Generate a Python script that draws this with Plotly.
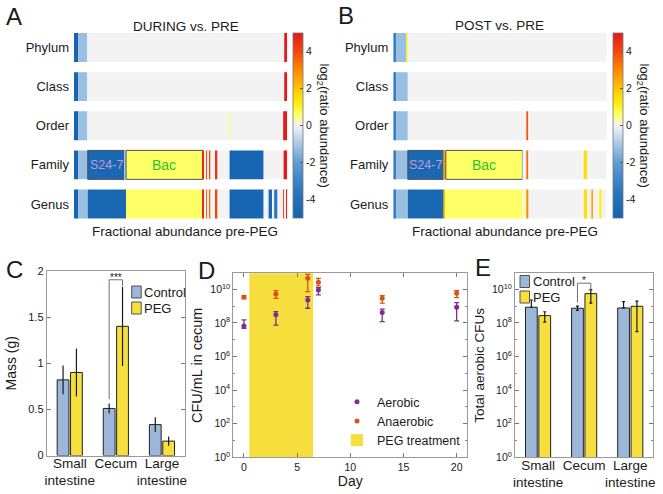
import numpy as np
import plotly.graph_objects as go

W, H = 663, 494
FONT = "Arial, Liberation Sans, sans-serif"
INK = "#1a1a1a"
CTRL = "#9db7da"
PEG = "#f7e03e"


def px(x):
    return x / W


def py(y):
    return 1 - y / H


ranks = ["Phylum", "Class", "Order", "Family", "Genus"]

# ---- A: DURING vs. PRE (segment width = fractional abundance pre-PEG, value = log2 ratio)
during_phylum_w = [0.020, 0.042, 0.919, 0.014, 0.005]
during_phylum_v = [-4.8, -1.2, 0.0, 5.0, 0.0]
during_class_w = [0.020, 0.042, 0.919, 0.014, 0.005]
during_class_v = [-4.8, -1.2, 0.0, 5.0, 0.0]
during_order_w = [0.020, 0.042, 0.659, 0.006, 0.249, 0.019, 0.005]
during_order_v = [-4.8, -1.2, 0.0, 0.4, 0.0, 5.0, 0.0]
during_family_w = [0.020, 0.044, 0.171, 0.008, 0.358, 0.008, 0.008, 0.005, 0.009,
                   0.005, 0.026, 0.008, 0.056, 0.159, 0.093, 0.019, 0.005]
during_family_v = [-4.8, -1.2, -4.6, -1.0, 0.6, 4.6, 0.0, 4.0, 0.0,
                   4.0, 0.0, 4.5, 0.0, -4.8, 0.0, 5.0, 0.0]
during_family_txt = ["", "", "S24-7", "", "Bac"] + [""] * 12
during_genus_w = [0.020, 0.044, 0.179, 0.358, 0.008, 0.008, 0.005, 0.009, 0.005, 0.026, 0.008,
                  0.056, 0.159, 0.023, 0.020, 0.006, 0.016, 0.028, 0.006, 0.006, 0.006, 0.005]
during_genus_v = [-4.8, -1.2, -4.6, 0.6, 4.6, 0.0, 3.5, 0.0, 3.5, 0.0, 4.0,
                  0.0, -4.8, 0.0, -4.6, 0.0, -3.6, 0.0, 4.0, 0.0, 5.0, 0.0]

# ---- B: POST vs. PRE
post_phylum_w = [0.009, 0.006, 0.047, 0.006, 0.932]
post_phylum_v = [-4.8, -3.0, -1.2, 1.0, 0.0]
post_class_w = [0.009, 0.006, 0.053, 0.932]
post_class_v = [-4.8, -3.0, -1.2, 0.0]
post_order_w = [0.009, 0.006, 0.053, 0.556, 0.009, 0.367]
post_order_v = [-4.8, -3.0, -1.2, 0.0, 3.8, 0.0]
post_family_w = [0.009, 0.006, 0.053, 0.169, 0.009, 0.359, 0.019, 0.009, 0.259, 0.016, 0.091]
post_family_v = [-4.8, -3.0, -1.2, -4.6, 2.5, 0.6, 0.0, 3.5, 0.0, 1.5, 0.0]
post_family_txt = ["", "", "", "S24-7", "", "Bac"] + [""] * 5
post_genus_w = [0.009, 0.006, 0.053, 0.169, 0.006, 0.363, 0.019, 0.009, 0.259, 0.016,
                0.022, 0.006, 0.031, 0.009, 0.022]
post_genus_v = [-4.8, -3.0, -1.2, -4.6, 2.2, 0.6, 0.2, 3.0, 0.0, 1.5,
                0.0, 2.5, 0.0, 1.2, 0.0]

# ---- C: organ mass
gut_sections = ["Small<br>intestine", "Cecum", "Large<br>intestine"]
mass_control = [0.82, 0.51, 0.335]
mass_control_err = [0.155, 0.055, 0.08]
mass_peg = [0.90, 1.40, 0.156]
mass_peg_err = [0.26, 0.43, 0.05]

# ---- D: CFU/mL in cecum over time
days = [0, 3, 6, 7, 13, 20]
aerobic = [6.6e7, 3.0e8, 2.3e9, 9.1e9, 4.1e8, 8.5e8]
aerobic_hi = [1.5e8, 4.7e8, 3.6e9, 1.26e10, 6.5e8, 1.6e9]
aerobic_lo = [4.8e7, 7.4e7, 7.4e8, 4.6e9, 1.2e8, 1.3e8]
anaerobic = [3.3e9, 5.2e9, 4.5e10, 2.6e10, 2.9e9, 5.8e9]
anaerobic_hi = [4.2e9, 8.3e9, 7.8e10, 4.5e10, 4.2e9, 8.3e9]
anaerobic_lo = [2.75e9, 2.9e9, 7.2e9, 1.6e10, 1.5e9, 3.2e9]
peg_start, peg_end = 0.5, 6.5

# ---- E: total aerobic CFUs
cfu_control = [8.5e8, 7.4e8, 7.7e8]
cfu_control_up = [1.44e9, 2.6e8, 1.05e9]
cfu_control_dn = [0, 1.9e8, 0]
cfu_peg = [2.7e8, 5.5e9, 9.7e8]
cfu_peg_up = [1.9e8, 4.0e9, 1.0e9]
cfu_peg_dn = [1.6e8, 4.0e9, 9.4e8]

label_colors = {"S24-7": "#c49ad6", "Bac": "#2fc02f"}

cscale = [[0.0, "#1462ad"], [0.15, "#2a78c0"], [0.3, "#5f9dd2"], [0.4, "#a8c8e6"],
          [0.47, "#dde7f1"], [0.5, "#f3f3f4"], [0.53, "#fbfbb0"], [0.56, "#ffff66"],
          [0.62, "#ffee10"], [0.7, "#ffc400"], [0.8, "#ff8a00"], [0.9, "#f2480f"],
          [1.0, "#e31a1c"]]

fig = go.Figure()
annotations = []
shapes = []


def note(x, y, text, size, **kw):
    # text placed by pixel position in the page
    d = dict(x=px(x), y=py(y), xref="paper", yref="paper", text=text, showarrow=False,
             xanchor="center", yanchor="middle", font=dict(size=size, color=INK))
    d.update(kw)
    annotations.append(d)


def abundance_panel(rows, xa, ya, cax):
    ys, xs, bases, cols, lws = [], [], [], [], []
    for rank, (w, v, txt) in zip(ranks, rows):
        start = np.concatenate([[0.0], np.cumsum(w)[:-1]])
        for i in range(len(w)):
            ys.append(rank)
            xs.append(w[i])
            bases.append(start[i])
            cols.append(v[i])
            boxed = bool(txt and txt[i])
            lws.append(1 if boxed else 0)
            if boxed:
                annotations.append(dict(
                    x=start[i] + w[i] / 2, y=rank, xref=xa, yref=ya, text=txt[i],
                    showarrow=False, xanchor="center", yanchor="middle",
                    font=dict(size=12.5 if txt[i] == "S24-7" else 14,
                              color=label_colors[txt[i]], family=FONT),
                ))
    fig.add_trace(go.Bar(
        orientation="h", y=ys, x=xs, base=bases, width=0.74,
        marker=dict(color=cols, coloraxis=cax, line=dict(width=lws, color="#505050")),
        xaxis=xa, yaxis=ya, showlegend=False, hoverinfo="skip",
    ))


abundance_panel([(during_phylum_w, during_phylum_v, None),
                 (during_class_w, during_class_v, None),
                 (during_order_w, during_order_v, None),
                 (during_family_w, during_family_v, during_family_txt),
                 (during_genus_w, during_genus_v, None)], "x", "y", "coloraxis")
abundance_panel([(post_phylum_w, post_phylum_v, None),
                 (post_class_w, post_class_v, None),
                 (post_order_w, post_order_v, None),
                 (post_family_w, post_family_v, post_family_txt),
                 (post_genus_w, post_genus_v, None)], "x2", "y2", "coloraxis2")

# ---- C bars
fig.add_trace(go.Bar(
    x=gut_sections, y=mass_control, name="Control",
    marker=dict(color=CTRL, line=dict(color="#222", width=1)),
    error_y=dict(type="data", array=mass_control_err, color=INK, thickness=1.2, width=0),
    xaxis="x3", yaxis="y3", showlegend=False))
fig.add_trace(go.Bar(
    x=gut_sections, y=mass_peg, name="PEG",
    marker=dict(color=PEG, line=dict(color="#222", width=1)),
    error_y=dict(type="data", array=mass_peg_err, color=INK, thickness=1.2, width=0),
    xaxis="x3", yaxis="y3", showlegend=False))

# ---- D
fig.add_trace(go.Bar(
    x=[(peg_start + peg_end) / 2], y=[1e11], base=[1], width=[peg_end - peg_start],
    name="PEG treatment", marker=dict(color="#f6de3c", line=dict(width=0)),
    xaxis="x4", yaxis="y4", legend="legend2", legendrank=3, hoverinfo="skip"))
fig.add_trace(go.Scatter(
    x=days, y=aerobic, mode="markers", name="Aerobic",
    marker=dict(color="#7e2f8e", size=5),
    error_y=dict(type="data", array=np.subtract(aerobic_hi, aerobic),
                 arrayminus=np.subtract(aerobic, aerobic_lo),
                 color="#7e2f8e", thickness=1.3, width=2.5),
    xaxis="x4", yaxis="y4", legend="legend2", legendrank=1))
fig.add_trace(go.Scatter(
    x=days, y=anaerobic, mode="markers", name="Anaerobic",
    marker=dict(color="#d95319", size=5),
    error_y=dict(type="data", array=np.subtract(anaerobic_hi, anaerobic),
                 arrayminus=np.subtract(anaerobic, anaerobic_lo),
                 color="#d95319", thickness=1.3, width=2.5),
    xaxis="x4", yaxis="y4", legend="legend2", legendrank=2))

# ---- E bars
fig.add_trace(go.Bar(
    x=gut_sections, y=cfu_control, name="Control",
    marker=dict(color=CTRL, line=dict(color="#222", width=1)),
    error_y=dict(type="data", array=cfu_control_up, arrayminus=cfu_control_dn,
                 color=INK, thickness=1.2, width=1.5),
    xaxis="x5", yaxis="y5", showlegend=False))
fig.add_trace(go.Bar(
    x=gut_sections, y=cfu_peg, name="PEG",
    marker=dict(color=PEG, line=dict(color="#222", width=1)),
    error_y=dict(type="data", array=cfu_peg_up, arrayminus=cfu_peg_dn,
                 color=INK, thickness=1.2, width=1.5),
    xaxis="x5", yaxis="y5", showlegend=False))

bargap, groupgap = 0.42, 0.12
half = (1 - bargap) / 4  # offset of each bar centre from the category centre

# significance brackets
for xa, ya, lo, top, hi, stars, ytxt in [
        ("x3", "y3", 0.61, 1.905, 1.84, "***", 1.905),
        ("x5", "y5", 1.6e9, 2.3e10, 9.5e9, "*", np.log10(2.3e10))]:
    for x0, y0, x1, y1 in [(1 - half, lo, 1 - half, top), (1 - half, top, 1 + half, top),
                           (1 + half, top, 1 + half, hi)]:
        shapes.append(dict(type="line", xref=xa, yref=ya, x0=x0, y0=y0, x1=x1, y1=y1,
                           line=dict(color="#707070", width=1)))
    annotations.append(dict(x=1, y=ytxt, xref=xa, yref=ya, text=stars, showarrow=False,
                            xanchor="center", yanchor="bottom", yshift=-5,
                            font=dict(size=10, color=INK)))

# hand-drawn legends for C and E (box + label)
for (bx, by), color, label in [((131.7, 286), CTRL, "Control"), ((131.7, 302), PEG, "PEG"),
                               ((520, 275.5), CTRL, "Control"), ((520, 291), PEG, "PEG")]:
    shapes.append(dict(type="rect", xref="paper", yref="paper",
                       x0=px(bx), x1=px(bx + 9.5), y0=py(by), y1=py(by + 12),
                       fillcolor=color, line=dict(color="#505050", width=1)))
    note(bx + 10.5, by + 6, label, 13, xanchor="left")

# scale bar for the abundance panels
scale_len = 0.1
sx0 = -0.2625
for x0, y0, x1, y1 in [(sx0, 227.5, sx0 + scale_len, 227.5), (sx0, 224.5, sx0, 230.5),
                       (sx0 + scale_len, 224.5, sx0 + scale_len, 230.5)]:
    shapes.append(dict(type="line", xref="x2", yref="paper", x0=x0, x1=x1, y0=py(y0), y1=py(y1),
                       line=dict(color="#333", width=1)))
annotations.append(dict(x=sx0 + scale_len / 2, y=py(235), xref="x2", yref="paper", text="0.1",
                        showarrow=False, xanchor="center", yanchor="middle",
                        font=dict(size=9, color=INK)))

# panel letters and titles
for txt, x, y, size in [("A", 14, 16.5, 24), ("B", 346, 15.5, 24), ("C", 14.5, 269, 24),
                        ("D", 206, 270, 24), ("E", 483, 267, 24),
                        ("DURING vs. PRE", 186, 26.5, 13.5), ("POST vs. PRE", 499, 26, 13.5),
                        ("Fractional abundance pre-PEG", 184.5, 231.5, 13.5),
                        ("Fractional abundance pre-PEG", 505, 231.5, 13.5)]:
    note(x, y, txt, size)

# colour-bar titles, reading top to bottom
for x in (323, 643):
    note(x, 125.5, "log<sub>2</sub>(ratio abundance)", 13, textangle=90)

log_ticks = [10 ** k for k in range(0, 11, 2)]
log_text = ["10<sup>%d</sup>" % k for k in range(0, 11, 2)]
minor_log = dict(tickvals=[10 ** k for k in range(1, 11, 2)], ticks="inside", ticklen=2,
                 tickcolor="#888")

frame = dict(showline=True, mirror="ticks", linecolor="#9a9a9a", linewidth=1,
             ticks="inside", tickcolor="#777", ticklen=4, showgrid=False, zeroline=False)

colorbar_common = dict(thickness=10, thicknessmode="pixels", len=185 / H, lenmode="fraction",
                       y=py(125.5), yanchor="middle", xanchor="left", xpad=0, ypad=0,
                       outlinewidth=0.8, outlinecolor="#777",
                       tickvals=[-4, -2, 0, 2, 4], ticktext=["-4", "-2", "0", "2", "4"],
                       ticks="inside", ticklen=3, tickcolor="#555",
                       tickfont=dict(size=10.5, color=INK))

fig.update_layout(
    width=W, height=H, margin=dict(l=0, r=0, t=0, b=0, autoexpand=False),
    paper_bgcolor="white", plot_bgcolor="white",
    font=dict(family=FONT, color=INK),
    barmode="group", bargap=bargap, bargroupgap=groupgap,
    coloraxis=dict(colorscale=cscale, cmin=-5, cmax=5,
                   colorbar=dict(colorbar_common, x=px(293))),
    coloraxis2=dict(colorscale=cscale, cmin=-5, cmax=5,
                    colorbar=dict(colorbar_common, x=px(613))),
    xaxis=dict(domain=[px(74), px(288.3)], range=[0, 1], visible=False, anchor="y"),
    yaxis=dict(domain=[py(223.6), py(27.9)], type="category", categoryarray=ranks,
               range=[4.5, -0.5], showline=False, showgrid=False, ticks="",
               ticklabelstandoff=4, tickfont=dict(size=13), anchor="x"),
    xaxis2=dict(domain=[px(393.3), px(606.7)], range=[0, 1], visible=False, anchor="y2"),
    yaxis2=dict(domain=[py(223.6), py(27.9)], type="category", categoryarray=ranks,
                range=[4.5, -0.5], showline=False, showgrid=False, ticks="",
                ticklabelstandoff=4, tickfont=dict(size=13), anchor="x2"),
    xaxis3=dict(frame, domain=[px(46.7), px(185)], ticks="", tickangle=0,
                ticklabelstandoff=-5, tickfont=dict(size=13.5), anchor="y3"),
    yaxis3=dict(frame, domain=[py(455.5), py(271)], range=[0, 2],
                tickvals=[0, 0.5, 1, 1.5, 2], tickfont=dict(size=11),
                title=dict(text="Mass (g)", font=dict(size=14), standoff=8), anchor="x3"),
    xaxis4=dict(frame, domain=[px(233.3), px(467.3)], range=[-1, 21],
                tickvals=[0, 5, 10, 15, 20], tickfont=dict(size=10.5),
                title=dict(text="Day", font=dict(size=14), standoff=2), anchor="y4"),
    yaxis4=dict(frame, domain=[py(457.3), py(273.3)], type="log", range=[0, 10.95],
                tickvals=log_ticks, ticktext=log_text, tickfont=dict(size=10.5),
                minor=minor_log,
                title=dict(text="CFU/mL in cecum", font=dict(size=14.5), standoff=4),
                anchor="x4"),
    xaxis5=dict(frame, domain=[px(515), px(653.3)], ticks="", tickangle=0,
                ticklabelstandoff=-5, tickfont=dict(size=13.5), anchor="y5"),
    yaxis5=dict(frame, domain=[py(457.3), py(273.3)], type="log", range=[0, 10.95],
                tickvals=log_ticks, ticktext=log_text, tickfont=dict(size=10.5),
                minor=minor_log,
                title=dict(text="Total aerobic CFUs", font=dict(size=13.5), standoff=4),
                anchor="x5"),
    legend2=dict(x=px(337), y=py(387), xanchor="left", yanchor="top",
                 bgcolor="rgba(0,0,0,0)", font=dict(size=12.5, color=INK),
                 tracegroupgap=0, itemwidth=30),
    annotations=annotations, shapes=shapes,
)

# the page's default body margin would shift the figure by 8px
fig.write_html("out.html", config={"displayModeBar": False},
               post_script="document.body.style.margin = '0px';")
